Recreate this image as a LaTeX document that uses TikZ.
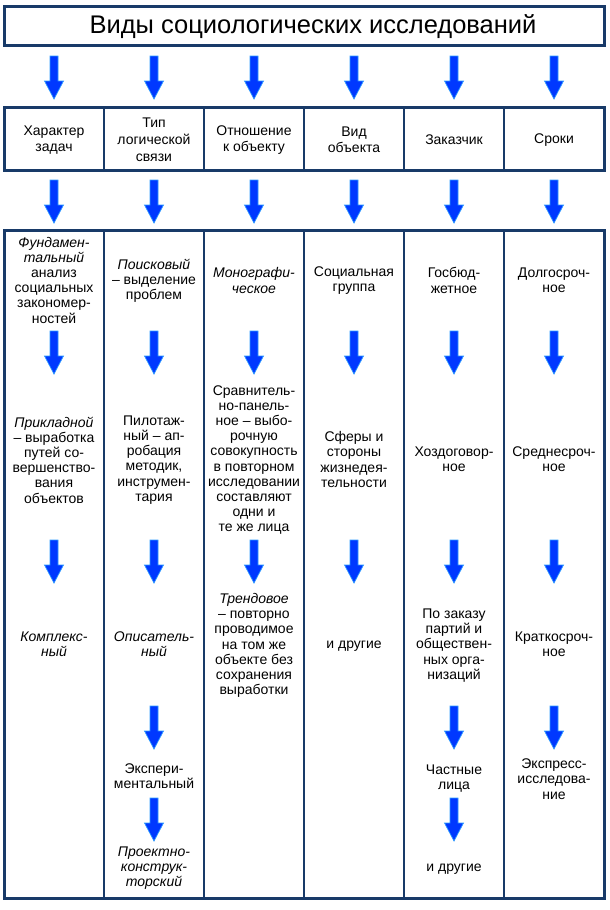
\documentclass[tikz,border=0pt]{standalone}
\usepackage{fontspec}
\setmainfont{Liberation Sans}
\definecolor{navy}{HTML}{183A68}
\definecolor{arrfill}{HTML}{0038FF}
\definecolor{arredge}{HTML}{2E9BFF}
\begin{document}
\begin{tikzpicture}[x=1pt,y=-1pt,
  frame/.style={draw=navy,line width=3pt},
  divider/.style={draw=navy,line width=2.2pt},
  txt/.style={align=center,inner sep=0pt,font=\fontsize{14}{15.2}\selectfont},
  hdr/.style={align=center,inner sep=0pt,font=\fontsize{14}{15.5}\selectfont},
  darrow/.pic={\path[fill=arrfill,draw=arredge,line width=0.7pt] (-4,0)--(4,0)--(4,25)--(9.5,25)--(0,43)--(-9.5,25)--(-4,25)--cycle;}
]
\useasboundingbox (0,0) rectangle (610,910);
% frames
\draw[frame] (4,6) rectangle (604,45);
\node[inner sep=0pt,font=\fontsize{25.5}{27}\selectfont] (title) at (313,27) {Виды социологических исследований};

\foreach \x in {104,204,304,404,504} {
  \draw[divider] (\x,107) -- (\x,170);
  \draw[divider] (\x,230) -- (\x,898);
}
\draw[frame] (4,107) rectangle (604,170);
\draw[frame] (4,230) rectangle (604,898);

% arrows between title, header, body
\foreach \x in {54,154,254,354,454,554} {
  \pic at (\x,56) {darrow};
  \pic at (\x,180) {darrow};
}

% header
\node[hdr] (h1) at (54,140) {Характер\\задач};
\node[hdr,font=\fontsize{14}{17}\selectfont] (h2) at (154,139.5) {Тип\\логической\\связи};
\node[hdr] (h3) at (254,140) {Отношение\\к объекту};
\node[hdr] (h4) at (354,140) {Вид\\объекта};
\node[hdr] (h5) at (454,140) {Заказчик};
\node[hdr] (h6) at (554,140) {Сроки};

% column 1
\node[txt] (c1a) at (54,280) {\textit{Фундамен-}\\\textit{тальный}\\анализ\\социальных\\закономер-\\ностей};
\node[txt] (c1b) at (54,460) {\textit{Прикладной}\\– выработка\\путей со-\\вершенство-\\вания\\объектов};
\node[txt] (c1c) at (54,644.5) {\textit{Комплекс-}\\\textit{ный}};

% column 2
\node[txt] (c2a) at (154,281) {\textit{Поисковый}\\– выделение\\проблем};
\node[txt] (c2b) at (154,460) {Пилотаж-\\ный – ап-\\робация\\методик,\\инструмен-\\тария};
\node[txt] (c2c) at (154,644.5) {\textit{Описатель-}\\\textit{ный}};
\node[txt] (c2d) at (154,776) {Экспери-\\ментальный};
\node[txt] (c2e) at (154,868) {\textit{Проектно-}\\\textit{конструк-}\\\textit{торский}};

% column 3
\node[txt] (c3a) at (254,280.5) {\textit{Монографи-}\\\textit{ческое}};
\node[txt] (c3b) at (254,460) {Сравнитель-\\но-панель-\\ное – выбо-\\рочную\\совокупность\\в повторном\\исследовании\\составляют\\одни и\\те же лица};
\node[txt] (c3c) at (254,645.5) {\textit{Трендовое}\\– повторно\\проводимое\\на том же\\объекте без\\сохранения\\выработки};

% column 4
\node[txt] (c4a) at (354,280.5) {Социальная\\группа};
\node[txt] (c4b) at (354,459.5) {Сферы и\\стороны\\жизнедея-\\тельности};
\node[txt] (c4c) at (354,646) {и другие};

% column 5
\node[txt] (c5a) at (454,280.5) {Госбюд-\\жетное};
\node[txt] (c5b) at (454,459.5) {Хоздоговор-\\ное};
\node[txt] (c5c) at (454,645.5) {По заказу\\партий и\\обществен-\\ных орга-\\низаций};
\node[txt] (c5d) at (454,778.5) {Частные\\лица};
\node[txt] (c5e) at (454,869) {и другие};

% column 6
\node[txt] (c6a) at (554,280.5) {Долгосроч-\\ное};
\node[txt] (c6b) at (554,459.5) {Среднесроч-\\ное};
\node[txt] (c6c) at (554,644.5) {Краткосроч-\\ное};
\node[txt] (c6d) at (554,779) {Экспресс-\\исследова-\\ние};

% body arrows
\foreach \x in {54,154,254,354,454,554} \pic at (\x,331) {darrow};
\foreach \x in {54,154,254,354,454,554} \pic at (\x,540) {darrow};
\foreach \x in {154,454,554} \pic at (\x,706) {darrow};
\foreach \x in {154,454} \pic at (\x,798) {darrow};
\end{tikzpicture}
\end{document}
